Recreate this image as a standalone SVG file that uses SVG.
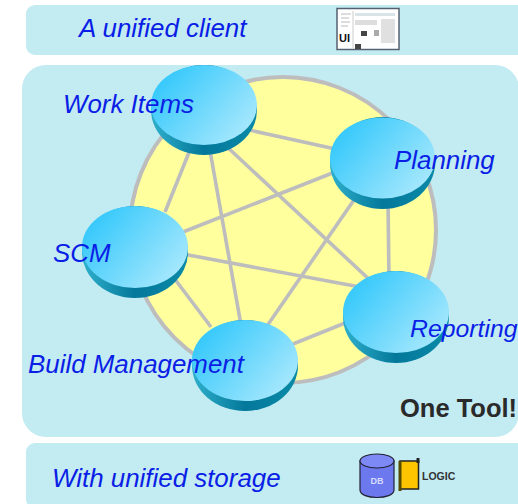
<svg xmlns="http://www.w3.org/2000/svg" width="518" height="504" viewBox="0 0 518 504">
<style>
.band{fill:#c2ebf2}
.lbl{font-family:"Liberation Sans",Arial,sans-serif;font-style:italic;font-size:25.9px;fill:#0a1ee6}
.link{stroke:#bdbdbd;stroke-width:3.600;fill:none}
.side{fill:url(#sd)}
.top{fill:url(#tp)}
.b{font-family:"Liberation Sans",Arial,sans-serif;font-weight:700}
</style>
<defs>
<linearGradient id="tp" x1="0.05" y1="0.2" x2="0.95" y2="0.8"><stop offset="0" stop-color="#33c8fb"/><stop offset="1" stop-color="#a8e8fd"/></linearGradient>
<linearGradient id="sd" x1="0" y1="0" x2="1" y2="0"><stop offset="0" stop-color="#2fb0cc"/><stop offset="0.5" stop-color="#04789a"/><stop offset="1" stop-color="#0a8aa8"/></linearGradient>
<filter id="soft"><feGaussianBlur stdDeviation="0.6"/></filter>
</defs>
<rect width="518" height="504" fill="#fff"/>
<rect class="band" x="26" y="5" width="500" height="50" rx="9"/>
<rect class="band" x="22" y="65" width="497" height="372" rx="24"/>
<rect class="band" x="26" y="443" width="500" height="65" rx="9"/>
<ellipse cx="283" cy="230" rx="153" ry="153" fill="#ffff9e" stroke="#bdbdbd" stroke-width="4"/>
<g id="connectors" class="link">
<path d="M240 128L340 150M192 145L165 212M209 145L241 325M225 145L372 282M340 170L183 232M388 200L389 280M356 197L267 326M183 254L360 287M174 278L211 327M288 346L350 321"/>
</g>
<g id="node-work-items"><ellipse class="side" cx="204" cy="110" rx="53" ry="45"/><ellipse class="top" cx="204" cy="105" rx="53" ry="40"/><text class="lbl" x="63" y="113">Work Items</text></g>
<g id="node-planning"><ellipse class="side" cx="382.500" cy="163" rx="52.500" ry="46"/><ellipse class="top" cx="382.500" cy="158" rx="52.500" ry="40.500"/><text class="lbl" x="394" y="169">Planning</text></g>
<g id="node-scm"><ellipse class="side" cx="135" cy="252" rx="53" ry="46"/><ellipse class="top" cx="135" cy="247" rx="53" ry="41"/><text class="lbl" x="53" y="262">SCM</text></g>
<g id="node-reporting"><ellipse class="side" cx="396" cy="317" rx="53" ry="46"/><ellipse class="top" cx="396" cy="312" rx="53" ry="41"/><text class="lbl" x="410" y="337" style="font-size:24.800px">Reporting</text></g>
<g id="node-build"><ellipse class="side" cx="245" cy="365.500" rx="53" ry="45.500"/><ellipse class="top" cx="245" cy="360.500" rx="53" ry="40.500"/><text class="lbl" x="28" y="373">Build Management</text></g>
<text class="lbl" x="79" y="37">A unified client</text>
<text class="lbl" x="52" y="487">With unified storage</text>
<text class="b" x="400" y="417" font-size="25.500" fill="#2a2a2a">One Tool!</text>
<g id="ui">
<rect x="337" y="8.500" width="62" height="41" fill="#fff" stroke="#556070" stroke-width="1.5"/>
<g filter="url(#soft)">
<path d="M341 14H351M341 18H349M341 22H350M341 26H348" stroke="#bbb"/><path d="M353 11V48" stroke="#ccc"/><rect x="355" y="13" width="40" height="3" fill="#d8e4e8"/><rect x="355" y="20" width="22" height="5" fill="#ddd"/><rect x="381" y="19" width="14" height="24" fill="#e0e0e0"/><rect x="361" y="31" width="6" height="5" fill="#444"/><rect x="374" y="30" width="5" height="6" fill="#aaa"/><rect x="355" y="44" width="6" height="5" fill="#444"/>
</g>
<text class="b" x="339" y="41.500" font-size="11" fill="#111">UI</text>
</g>
<g id="db">
<path d="M360 461V490C360 500 394 500 394 490V461Z" fill="#6c78ee" stroke="#223" stroke-width="1.2"/>
<ellipse cx="377" cy="461" rx="17" ry="7" fill="#7d8af5" stroke="#223" stroke-width="1.2"/>
<text class="b" x="377" y="484" text-anchor="middle" font-size="9" fill="#d5dcff">DB</text>
</g>
<g id="logic">
<path d="M400 461H418.500V489H400Z" fill="#fdc400" stroke="#222" stroke-width="1.5"/>
<path d="M400 461V491" stroke="#554a00" stroke-width="3"/><path d="M418 458V463" stroke="#222" stroke-width="3"/>
<text class="b" x="422" y="480" font-size="10.500" fill="#333">LOGIC</text>
</g>
</svg>
